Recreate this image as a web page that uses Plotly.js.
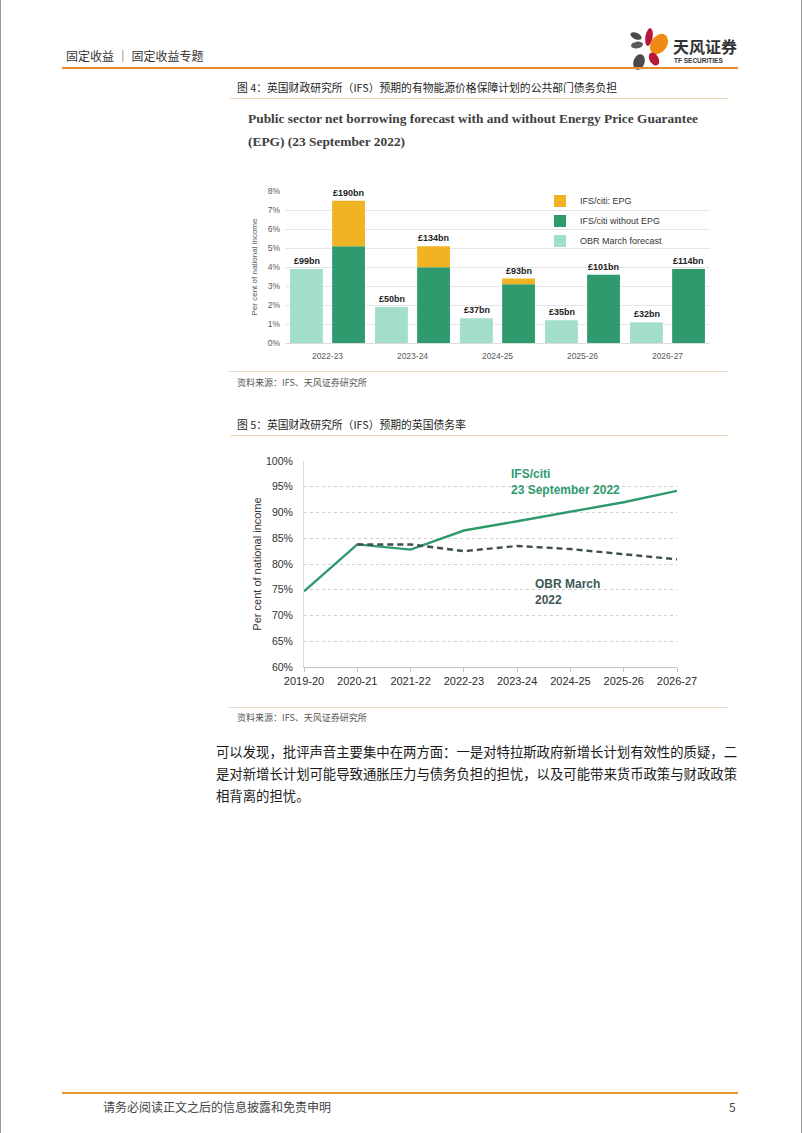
<!DOCTYPE html>
<html>
<head>
<meta charset="utf-8">
<script src="https://cdn.plot.ly/plotly-3.0.1.min.js"></script>
<style>
  html, body { margin:0; padding:0; background:#fff; }
  #page { position:relative; width:802px; height:1133px; overflow:hidden; background:#fff;
          font-family:"Noto Sans CJK SC", "Noto Sans", sans-serif; color:#222; }
  .abs { position:absolute; white-space:nowrap; }
  .hline { position:absolute; }
</style>
</head>
<body>
<div id="page">
  <!-- page edges -->
  <div class="hline" style="left:0;top:0;width:1px;height:1133px;background:#9a9a9a"></div>
  <div class="hline" style="left:801px;top:0;width:1px;height:1133px;background:#9a9a9a"></div>

  <!-- header -->
  <div class="abs" style="left:66px;top:47px;font-size:12px;line-height:18px;color:#333;">固定收益 ｜ 固定收益专题</div>
  <svg class="abs" style="left:625px;top:26px" width="48" height="46" viewBox="0 0 48 46">
    <ellipse cx="11" cy="10" rx="6" ry="3.2" fill="#4a4a4a" transform="rotate(25 11 10)"/>
    <ellipse cx="24" cy="11" rx="3.6" ry="9" fill="#b8173a" transform="rotate(10 24 11)"/>
    <ellipse cx="34" cy="18" rx="8" ry="11" fill="#f08a12" transform="rotate(35 34 18)"/>
    <ellipse cx="12" cy="19" rx="6" ry="3.4" fill="#5a5a5a" transform="rotate(-10 12 19)"/>
    <ellipse cx="29" cy="33" rx="4.5" ry="7" fill="#b8173a" transform="rotate(-30 29 33)"/>
    <ellipse cx="14" cy="36" rx="5.5" ry="8" fill="#4a4a4a" transform="rotate(20 14 36)"/>
  </svg>
  <div class="abs" style="left:673px;top:36px;font-size:16px;line-height:20px;font-weight:bold;color:#333;letter-spacing:0px;">天风证券</div>
  <div class="abs" style="left:674px;top:57px;font-family:'Liberation Sans',Arial,sans-serif;font-size:6.5px;line-height:8px;font-weight:bold;color:#333;">TF SECURITIES</div>
  <div class="hline" style="left:62px;top:67px;width:676px;height:2px;background:#e8892b"></div>

  <!-- figure 4 caption -->
  <div class="abs" style="left:237px;top:80px;font-size:10.8px;line-height:15px;color:#1e1e1e;">图 4：英国财政研究所（IFS）预期的有物能源价格保障计划的公共部门债务负担</div>
  <div class="hline" style="left:230px;top:98px;width:498px;height:1px;background:#f0d2b4"></div>
  <div class="abs" style="left:248px;top:107px;font-family:'Liberation Serif','Times New Roman',serif;font-weight:bold;font-size:13.4px;line-height:23px;color:#3e3e3e;">Public sector net borrowing forecast with and without Energy Price Guarantee<br>(EPG) (23 September 2022)</div>

  <div id="chart1" class="abs" style="left:235px;top:180px;width:495px;height:190px;"></div>

  <div class="hline" style="left:228px;top:371px;width:500px;height:1px;background:#ead8c8"></div>
  <div class="abs" style="left:237px;top:376px;font-size:9px;line-height:13px;color:#555;">资料来源：IFS、天风证券研究所</div>

  <!-- figure 5 caption -->
  <div class="abs" style="left:237px;top:417px;font-size:10.8px;line-height:15px;color:#1e1e1e;">图 5：英国财政研究所（IFS）预期的英国债务率</div>
  <div class="hline" style="left:230px;top:435px;width:498px;height:1px;background:#f0d2b4"></div>

  <div id="chart2" class="abs" style="left:230px;top:440px;width:500px;height:265px;"></div>

  <div class="hline" style="left:228px;top:707px;width:500px;height:1px;background:#ead8c8"></div>
  <div class="abs" style="left:237px;top:711px;font-size:9px;line-height:13px;color:#555;">资料来源：IFS、天风证券研究所</div>

  <!-- paragraph -->
  <div class="abs" style="left:216px;top:741px;font-size:13.36px;line-height:22px;color:#1a1a1a;">可以发现，批评声音主要集中在两方面：一是对特拉斯政府新增长计划有效性的质疑，二<br>是对新增长计划可能导致通胀压力与债务负担的担忧，以及可能带来货币政策与财政政策<br>相背离的担忧。</div>

  <!-- footer -->
  <div class="hline" style="left:62px;top:1092px;width:676px;height:2px;background:#e8962f"></div>
  <div class="abs" style="left:103px;top:1098px;font-size:12px;line-height:17px;color:#444;">请务必阅读正文之后的信息披露和免责申明</div>
  <div class="abs" style="left:729px;top:1098px;font-size:12px;line-height:17px;color:#444;">5</div>
</div>

<script>
// ---------- Figure 4 data ----------
const years1 = ['2022-23', '2023-24', '2024-25', '2025-26', '2026-27'];
const obrMarch = [3.9, 1.9, 1.3, 1.2, 1.1];
const ifsWithoutEpg = [5.1, 4.0, 3.1, 3.6, 3.9];
const ifsEpg = [2.4, 1.1, 0.3, 0, 0];
const obrLabels = ['£99bn', '£50bn', '£37bn', '£35bn', '£32bn'];
const ifsLabels = ['£190bn', '£134bn', '£93bn', '£101bn', '£114bn'];

// ---------- Figure 5 data ----------
const years2 = ['2019-20', '2020-21', '2021-22', '2022-23', '2023-24', '2024-25', '2025-26', '2026-27'];
const ifsDebt = [74.7, 83.8, 82.8, 86.5, 88.3, 90.2, 92.0, 94.2];
const obrDebt = [null, 83.8, 83.8, 82.5, 83.5, 82.9, 81.9, 80.9];

const SANS = 'Liberation Sans, Arial, sans-serif';
const C_OBR = '#a3dfc8', C_IFS = '#2e9a6e', C_EPG = '#f0b323';

const ifsTotal = ifsWithoutEpg.map((v, i) => v + ifsEpg[i]);

const traces1 = [
  { type:'bar', name:'OBR March forecast', x:years1, y:obrMarch, offsetgroup:'obr',
    marker:{color:C_OBR}, legendrank:3, legendgroup:'c', hoverinfo:'y' },
  { type:'bar', name:'IFS/citi without EPG', x:years1, y:ifsWithoutEpg, offsetgroup:'ifs',
    marker:{color:C_IFS}, legendrank:2, legendgroup:'b', hoverinfo:'y' },
  { type:'bar', name:'IFS/citi: EPG', x:years1, y:ifsEpg, base:ifsWithoutEpg, offsetgroup:'ifs',
    marker:{color:C_EPG}, legendrank:1, legendgroup:'a', hoverinfo:'y' }
];

const ann1 = [];
years1.forEach((yr, i) => {
  ann1.push({ x:yr, y:obrMarch[i], xref:'x', yref:'y', text:'<b>' + obrLabels[i] + '</b>',
    showarrow:false, xshift:-21, yanchor:'bottom', yshift:1, font:{family:SANS, size:9, color:'#222'} });
  ann1.push({ x:yr, y:ifsTotal[i], xref:'x', yref:'y', text:'<b>' + ifsLabels[i] + '</b>',
    showarrow:false, xshift:21, yanchor:'bottom', yshift:1, font:{family:SANS, size:9, color:'#222'} });
});

const layout1 = {
  width:495, height:190,
  margin:{l:50, r:20, t:11, b:27, autoexpand:false},
  paper_bgcolor:'#fff', plot_bgcolor:'#fff',
  barmode:'group', bargap:0.01, bargroupgap:0.22,
  font:{family:SANS, size:8, color:'#595959'},
  xaxis:{ type:'category', showgrid:false, showline:true, linecolor:'#dcdcdc', linewidth:1,
          ticks:'', tickfont:{size:8.5, color:'#595959'}, ticklabelstandoff:5, fixedrange:true },
  yaxis:{ range:[0, 8.02], tickvals:[0,1,2,3,4,5,6,7,8], ticktext:['0%','1%','2%','3%','4%','5%','6%','7%','8%'],
          gridcolor:'#e6e6e6', zeroline:false,
          tickfont:{size:8.5, color:'#595959'}, ticklabelstandoff:4,
          title:{text:'Per cent of national income', font:{size:8, color:'#595959'}, standoff:8}, fixedrange:true },
  legend:{ x:0.6, xanchor:'left', y:1.03, yanchor:'top', bgcolor:'rgba(0,0,0,0)',
           font:{family:SANS, size:9, color:'#333'}, traceorder:'grouped', tracegroupgap:1 },
  showlegend:true,
  annotations:ann1
};

Plotly.newPlot('chart1', traces1, layout1, {displayModeBar:false, staticPlot:true});

// ---------- Figure 5 ----------
const C_LINE = '#2e9a6c', C_DASH = '#3f4d4d';
const traces2 = [
  { type:'scatter', mode:'lines', name:'IFS/citi 23 September 2022', x:years2, y:ifsDebt,
    line:{color:C_LINE, width:2.4}, showlegend:false },
  { type:'scatter', mode:'lines', name:'OBR March 2022', x:years2, y:obrDebt,
    line:{color:C_DASH, width:2.4, dash:'6px,4px'}, showlegend:false, connectgaps:false }
];

const layout2 = {
  width:500, height:265,
  margin:{l:74, r:53, t:21, b:38, autoexpand:false},
  paper_bgcolor:'#fff', plot_bgcolor:'#fff',
  font:{family:SANS, size:11, color:'#333'},
  xaxis:{ type:'category', range:[0, 7], showgrid:false, showline:true, linecolor:'#c4c4c4', linewidth:1,
          ticks:'outside', ticklen:4, tickcolor:'#c4c4c4', tickfont:{size:11, color:'#2b2b2b'}, fixedrange:true },
  yaxis:{ range:[60, 100], dtick:5, ticksuffix:'%', gridcolor:'#cfcfcf', griddash:'dot', gridwidth:1,
          zeroline:false, showline:true, linecolor:'#dadada', ticks:'', ticklabelstandoff:8,
          tickfont:{size:10.5, color:'#2f2f2f'},
          title:{text:'Per cent of national income', font:{size:11, color:'#333'}, standoff:2}, fixedrange:true },
  annotations:[
    { x:3.85, y:99.2, xref:'x', yref:'y', xanchor:'left', yanchor:'top', align:'left', showarrow:false,
      text:'<b>IFS/citi<br>23 September 2022</b>', font:{family:SANS, size:12, color:C_LINE} },
    { x:4.3, y:77.8, xref:'x', yref:'y', xanchor:'left', yanchor:'top', align:'left', showarrow:false,
      text:'<b>OBR March<br>2022</b>', font:{family:SANS, size:12, color:'#3d5858'} }
  ],
  showlegend:false
};

Plotly.newPlot('chart2', traces2, layout2, {displayModeBar:false, staticPlot:true});
</script>
</body>
</html>
